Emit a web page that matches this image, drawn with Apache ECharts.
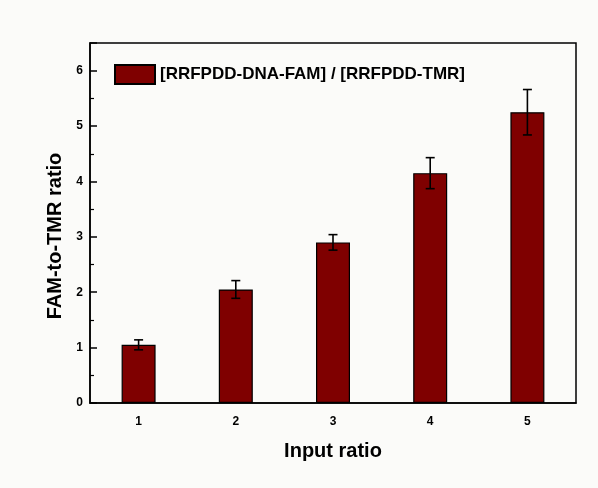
<!DOCTYPE html>
<html>
<head>
<meta charset="utf-8">
<script src="https://cdn.jsdelivr.net/npm/echarts@6/dist/echarts.min.js"></script>
<style>
  html, body { margin: 0; padding: 0; background: #fbfbf9; }
  #main { width: 598px; height: 488px; }
</style>
</head>
<body>
<div id="main"></div>
<script>
const categories = ['1', '2', '3', '4', '5']
const ratioValues = [1.05, 2.05, 2.9, 4.15, 5.25]
const ratioErrors = [0.09, 0.16, 0.14, 0.28, 0.41]
const seriesName = '[RRFPDD-DNA-FAM] / [RRFPDD-TMR]'

const font = 'Liberation Sans, Arial, sans-serif'

let chart = echarts.init(document.getElementById('main'))

let errorData = ratioValues.map((v, i) => [i, v - ratioErrors[i], v + ratioErrors[i]])

function renderError(params, api) {
  let x = api.value(0)
  let low = api.coord([x, api.value(1)])
  let high = api.coord([x, api.value(2)])
  let cap = 4.5
  let style = { stroke: '#000', lineWidth: 1.6 }
  return {
    type: 'group',
    children: [
      { type: 'line', shape: { x1: high[0], y1: high[1], x2: low[0], y2: low[1] }, style: style },
      { type: 'line', shape: { x1: high[0] - cap, y1: high[1], x2: high[0] + cap, y2: high[1] }, style: style },
      { type: 'line', shape: { x1: low[0] - cap, y1: low[1], x2: low[0] + cap, y2: low[1] }, style: style }
    ]
  }
}

let option = {
  backgroundColor: '#fbfbf9',
  animation: false,
  grid: {
    left: 90,
    right: 22,
    top: 43,
    bottom: 85,
    show: true,
    borderColor: '#000',
    borderWidth: 1.5,
    backgroundColor: 'transparent'
  },
  legend: {
    left: 109,
    top: 59,
    icon: 'rect',
    itemWidth: 40,
    itemHeight: 19,
    itemGap: 6,
    data: [seriesName],
    textStyle: {
      fontFamily: font,
      fontWeight: 'bold',
      fontSize: 17,
      color: '#000'
    }
  },
  xAxis: {
    type: 'category',
    data: categories,
    boundaryGap: true,
    name: 'Input ratio',
    nameLocation: 'middle',
    nameGap: 38,
    nameTextStyle: { fontFamily: font, fontWeight: 'bold', fontSize: 20, color: '#000' },
    axisLine: { lineStyle: { color: '#000', width: 1.5 } },
    axisTick: { alignWithLabel: true, inside: false, length: 7, lineStyle: { color: '#000', width: 1.5 } },
    axisLabel: { fontFamily: font, fontWeight: 'bold', fontSize: 12, color: '#000', margin: 13 },
    splitLine: { show: false }
  },
  yAxis: {
    type: 'value',
    min: 0,
    max: 6.5,
    interval: 1,
    name: 'FAM-to-TMR ratio',
    nameLocation: 'middle',
    nameGap: 25,
    nameTextStyle: {
      fontFamily: font, fontWeight: 'bold', fontSize: 20, color: '#000',
      padding: [0, 26, 0, 0]
    },
    axisLine: { show: true, lineStyle: { color: '#000', width: 1.5 } },
    axisTick: { show: true, inside: true, length: 7, lineStyle: { color: '#000', width: 1.5 } },
    minorTick: { show: true, splitNumber: 2, length: 4, lineStyle: { color: '#000', width: 1.2 } },
    axisLabel: {
      fontFamily: font, fontWeight: 'bold', fontSize: 12, color: '#000', margin: 7,
      showMaxLabel: false
    },
    splitLine: { show: false }
  },
  series: [
    {
      name: seriesName,
      type: 'bar',
      data: ratioValues,
      barWidth: 34,
      itemStyle: { color: '#7f0000', borderColor: '#000', borderWidth: 1.2 }
    },
    {
      name: 'error',
      type: 'custom',
      renderItem: renderError,
      data: errorData,
      z: 10
    }
  ]
}

chart.setOption(option)
</script>
</body>
</html>
